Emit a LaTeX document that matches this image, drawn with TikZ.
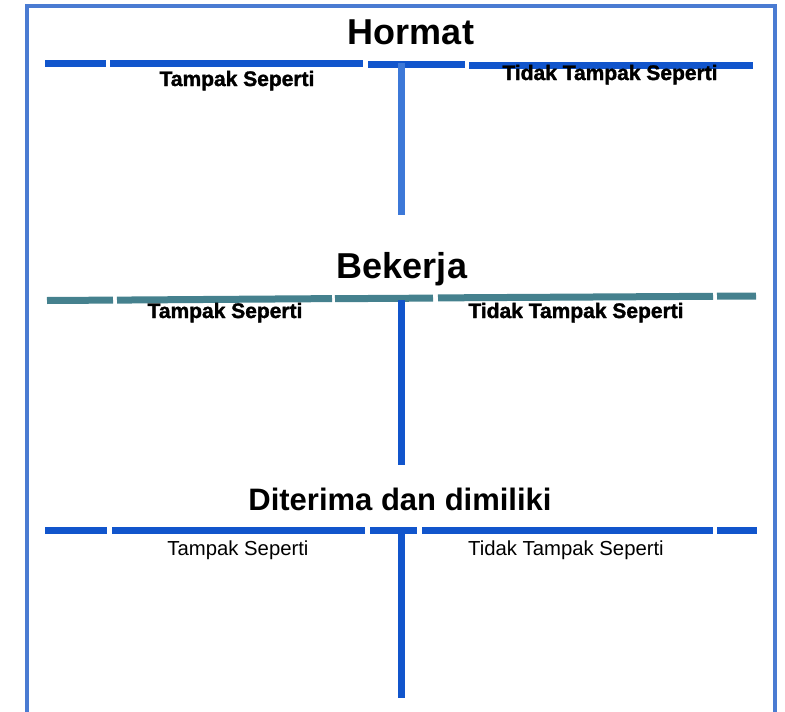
\documentclass[tikz,border=0pt]{standalone}
\usepackage{fontspec}
\setmainfont{Liberation Sans}
\newfontfamily\heavyfont[FakeBold=1.6]{Liberation Sans Bold}
\definecolor{framecol}{HTML}{4A7BD2}
\definecolor{barblue}{HTML}{1155CC}
\definecolor{barlight}{HTML}{3C78D8}
\definecolor{barteal}{HTML}{45818E}
\tikzset{
  hbar/.style={line width=7pt},
  vbar/.style={line width=7pt}
}
\begin{document}
\begin{tikzpicture}[x=1pt,y=-1pt]
      \useasboundingbox (0,0) rectangle (785,712);

      % frame, open at the bottom
      \draw[framecol,line width=3.5pt] (27,712) -- (27,6) -- (775,6) -- (775,712);

      % Hormat
      \begin{scope}[barblue,hbar]
        \draw (45,63) -- (106,63);
        \draw (110,63) -- (363,63);
        \draw (368,64) -- (465,64);
        \draw (469,65) -- (753,65);
      \end{scope}
      \draw[barlight,vbar] (401,63) -- (401,215);

      % Bekerja
      \begin{scope}[barteal,hbar]
        \draw (47,300.5) -- (113,300.1);
        \draw (117,300.1) -- (332,298.6);
        \draw (335,298.7) -- (433,298.1);
        \draw (438,297.9) -- (713,296.3);
        \draw (717,296.2) -- (756,296);
      \end{scope}
      \draw[barblue,vbar] (401,300) -- (401,465);

      % Diterima dan dimiliki
      \begin{scope}[barblue,hbar]
        \draw (45,530) -- (107,530);
        \draw (112,530) -- (365,530);
        \draw (370,530) -- (417,530);
        \draw (422,530) -- (713,530);
        \draw (717,530) -- (757,530);
      \end{scope}
      \draw[barblue,vbar] (401,530) -- (401,698);

      \begin{scope}[every node/.style={anchor=base,inner sep=0pt,font=\fontsize{36}{40}\selectfont\bfseries}]
        \node (hormat)  at (411,45)  {Hormat};
        \node (bekerja) at (402,278) {Bekerja};
        \node[font=\fontsize{31}{36}\selectfont\bfseries] (diterima) at (400,510) {Diterima dan dimiliki};
      \end{scope}

      \begin{scope}[every node/.style={anchor=base,inner sep=0pt,font=\fontsize{21}{24}\heavyfont}]
        \node (tampak1) at (237,86)  {Tampak Seperti};
        \node (tidak1)  at (610,80)  {Tidak Tampak Seperti};
        \node (tampak2) at (225,318) {Tampak Seperti};
        \node (tidak2)  at (576,318) {Tidak Tampak Seperti};
      \end{scope}

      \begin{scope}[every node/.style={anchor=base,inner sep=0pt,font=\fontsize{20.3}{24}\selectfont}]
        \node (tampak3) at (238,555) {Tampak Seperti};
        \node (tidak3)  at (566,555) {Tidak Tampak Seperti};
      \end{scope}

    \end{tikzpicture}
\end{document}
